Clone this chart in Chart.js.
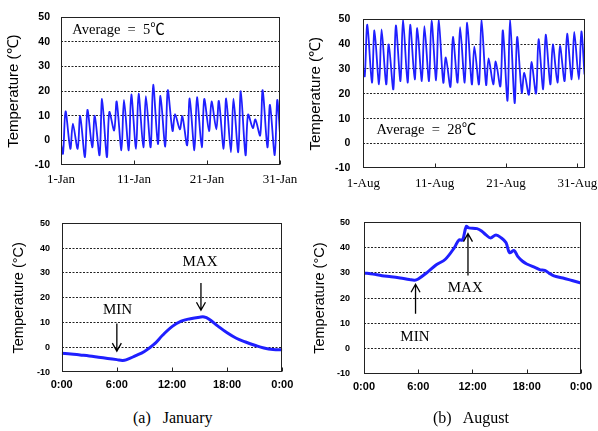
<!DOCTYPE html>
<html>
<head>
<meta charset="utf-8">
<script src="https://cdn.jsdelivr.net/npm/chart.js@4.4.0/dist/chart.umd.min.js"></script>
<style>
  body { margin: 0; background: #fff; overflow: hidden; }
  #wrap { position: relative; width: 598px; height: 431px; overflow: hidden; }
  .box { position: absolute; }
  .cap { position: absolute; font: 16px "Liberation Serif", serif; line-height: 18px; white-space: pre; color: #000; }
</style>
</head>
<body>
<div id="wrap">
  <div class="box" style="left:0;top:0;width:305px;height:195px"><canvas id="janMonth"></canvas></div>
  <div class="box" style="left:300px;top:0;width:305px;height:195px"><canvas id="augMonth"></canvas></div>
  <div class="box" style="left:0;top:200px;width:300px;height:200px"><canvas id="janDay"></canvas></div>
  <div class="box" style="left:300px;top:200px;width:298px;height:200px"><canvas id="augDay"></canvas></div>
  <div class="cap" style="left:133px;top:409px">(a)   January</div>
  <div class="cap" style="left:433px;top:409px">(b)   August</div>
</div>
<script>
// ===== DATA =====
// January: daily low / high (one per day), first and last reading of the month
const janMin = [-5.4, -3.4, -3.4, -6.8, -2.8, -6, -6.8, 4, -4, -4, -3.4, -2.8, -2.8, -1.5, -2.5, 3.8, 4.5, -2, -4, -2.8, 3.8, 4.5, -3.4, -4.8, -4.8, -6, 5, 2, -2.8, -6];
const janMax = [11.8, 6.8, 9.8, 12.4, 10, 16.8, 11.5, 15.8, 16.4, 18.7, 19, 18, 22.6, 18.1, 20.4, 10.7, 9.8, 17, 17.5, 16.8, 15.8, 16, 17, 17, 20, 10.5, 8.5, 20.4, 14.4, 16.4];
const janFirst = -1.5, janLast = 2.5;
const janLowHour = 6.7, janHighHour = 15;

// August: daily low / high
const augMin = [27.1, 24.5, 23.8, 23.8, 21.8, 25.1, 24.5, 25.8, 25.1, 25.1, 25.4, 24.5, 22.8, 24.5, 24.5, 23.8, 23.8, 23.6, 23.8, 23, 17.2, 16.3, 20.5, 19.6, 20.1, 21.8, 23.8, 24.5, 25.1, 25.8, 25.8];
const augMax = [47.8, 45.5, 45.9, 39.9, 47.5, 50, 47.8, 46.4, 47.2, 49.5, 50, 34.6, 42.9, 46.8, 48.6, 39, 50, 34.3, 33, 45.5, 50, 42.9, 28.4, 32.8, 42, 43.8, 39.9, 39.3, 44.2, 44.9, 45.1];
const augFirst = 29.7, augLast = 27.8;
const augLowHour = 5, augHighHour = 13.5;

const janTicks = ['1-Jan', '11-Jan', '21-Jan', '31-Jan'];
const augTicks = ['1-Aug', '11-Aug', '21-Aug', '31-Aug'];
const dayTicks = ['0:00', '6:00', '12:00', '18:00', '0:00'];

// typical day
const janHours = [0, 1, 2, 3, 4, 5, 6, 6.6, 7, 8, 9, 10, 11, 12, 13, 14, 15, 15.5, 16, 17, 18, 19, 20, 21, 22, 23, 24];
const janTemps = [-2.3, -2.6, -3.0, -3.4, -3.9, -4.4, -4.9, -5.2, -5.0, -3.4, -1.6, 1.1, 5.0, 8.4, 10.6, 11.6, 12.2, 12.3, 11.5, 8.6, 5.9, 3.7, 2.2, 0.9, -0.2, -0.8, -0.9];
const augHours = [0, 1, 2, 3, 4, 5, 5.6, 6, 7, 8, 9, 10, 10.5, 10.9, 11.3, 11.6, 12.5, 13, 13.5, 14, 14.6, 15.2, 15.7, 16.1, 16.6, 17, 17.5, 18, 19, 19.5, 20, 20.5, 21, 22, 23, 24];
const augTemps = [30.0, 29.5, 28.9, 28.5, 28.0, 27.4, 27.1, 27.6, 30.2, 33.2, 35.4, 40.0, 43.0, 43.0, 48.3, 47.8, 47.5, 46.6, 45.0, 43.8, 45.0, 43.8, 42.0, 38.0, 38.8, 36.5, 34.7, 33.5, 32.0, 31.2, 31.0, 29.8, 28.8, 28.0, 27.0, 26.0];

// ===== HELPERS =====
function monthPoints(first, mins, maxs, last, days, lowHour, highHour) {
  const pts = [{ x: 0, y: first }];
  mins.forEach((v, d) => {
    pts.push({ x: d + lowHour / 24, y: v });
    pts.push({ x: d + highHour / 24, y: maxs[d] });
  });
  pts.push({ x: days, y: last });
  return pts;
}

function dayPoints(hours, temps) {
  return hours.map((h, i) => ({ x: h, y: temps[i] }));
}

// frame, inner tick marks, arrows and notes
const decor = {
  id: 'decor',
  afterDraw(chart, args, opts) {
    const { ctx, chartArea: a, scales: { x, y } } = chart;
    ctx.save();
    ctx.strokeStyle = '#222';
    ctx.lineWidth = 1;
    const l = Math.round(a.left) + 0.5, t = Math.round(a.top) + 0.5;
    const r = Math.round(a.right) - 0.5, b = Math.round(a.bottom) - 0.5;
    ctx.strokeRect(l, t, r - l, b - t);

    ctx.beginPath();
    x.ticks.forEach(tk => {
      const px = Math.round(x.getPixelForValue(tk.value)) + 0.5;
      ctx.moveTo(px, b);
      ctx.lineTo(px, b - 4);
    });
    ctx.stroke();

    ctx.strokeStyle = '#000';
    ctx.lineWidth = 1.3;
    (opts.arrows || []).forEach(ar => {
      const px = x.getPixelForValue(ar.x);
      const y0 = y.getPixelForValue(ar.from);
      const y1 = y.getPixelForValue(ar.to);
      const dir = y1 > y0 ? 1 : -1;
      ctx.beginPath();
      ctx.moveTo(px, y0);
      ctx.lineTo(px, y1);
      ctx.moveTo(px - 4.5, y1 - dir * 8);
      ctx.lineTo(px, y1);
      ctx.lineTo(px + 4.5, y1 - dir * 8);
      ctx.stroke();
    });

    ctx.fillStyle = '#000';
    ctx.textBaseline = 'middle';
    (opts.notes || []).forEach(n => {
      ctx.font = n.font;
      ctx.textAlign = n.align || 'center';
      ctx.fillText(n.text, x.getPixelForValue(n.x), y.getPixelForValue(n.y));
    });
    ctx.restore();
  }
};

function makeChart(id, c) {
  return new Chart(document.getElementById(id), {
    type: 'line',
    data: {
      datasets: [{
        data: c.points,
        borderColor: '#1f1fff',
        borderWidth: c.lineWidth,
        pointRadius: 0,
        tension: c.tension,
        fill: false
      }]
    },
    options: {
      responsive: true,
      maintainAspectRatio: false,
      animation: false,
      layout: { padding: c.pad },
      plugins: {
        legend: { display: false },
        tooltip: { enabled: false },
        decor: { arrows: c.arrows, notes: c.notes }
      },
      scales: {
        x: {
          type: 'linear',
          min: 0,
          max: c.xMax,
          afterBuildTicks: s => { s.ticks = c.xValues.map(v => ({ value: v })); },
          afterFit: s => { s.height = c.xH; },
          grid: { display: false, drawTicks: false },
          border: { display: false },
          ticks: {
            autoSkip: false,
            maxRotation: 0,
            padding: c.xPad,
            color: '#000',
            font: c.xFont,
            callback: (v, i) => c.xLabels[i]
          }
        },
        y: {
          min: -10,
          max: 50,
          afterFit: s => { s.width = c.yW; },
          grid: {
            drawTicks: false,
            lineWidth: 1,
            color: ctx => (ctx.tick.value > -10 && ctx.tick.value < 50) ? '#222' : 'rgba(0,0,0,0)'
          },
          border: { display: false, dash: [2, 1.5] },
          ticks: {
            stepSize: 10,
            padding: c.yPad,
            color: '#000',
            font: c.yFont
          },
          title: {
            display: true,
            text: c.title,
            color: '#000',
            font: { family: 'Liberation Sans', size: c.titleSize },
            padding: { top: c.titlePad, bottom: 0 }
          }
        }
      }
    },
    plugins: [decor]
  });
}

// ===== CHARTS =====
const serif = '"Liberation Serif", "Noto Sans CJK JP", serif';

makeChart('janMonth', {
  points: monthPoints(janFirst, janMin, janMax, janLast, 30, janLowHour, janHighHour),
  lineWidth: 1.8, tension: 0.3,
  pad: { top: 14, right: 25, left: 0, bottom: 0 },
  xMax: 30, xValues: [0, 10, 20, 30], xLabels: janTicks, xH: 30, xPad: 7,
  xFont: { family: serif, size: 13 },
  yW: 61, yPad: 11, yFont: { family: 'Liberation Sans', size: 10.5, weight: 'bold' },
  title: 'Temperature (℃)', titleSize: 15, titlePad: 4.5,
  notes: [{ text: 'Average  =  5℃', x: 1.55, y: 44.6, align: 'left', font: '14.5px ' + serif }]
});

makeChart('augMonth', {
  points: monthPoints(augFirst, augMin, augMax, augLast, 31, augLowHour, augHighHour),
  lineWidth: 1.8, tension: 0.3,
  pad: { top: 17.3, right: 20.5, left: 0, bottom: 0 },
  xMax: 31, xValues: [0, 10, 20, 30], xLabels: augTicks, xH: 26.7, xPad: 7,
  xFont: { family: serif, size: 13 },
  yW: 63.3, yPad: 13, yFont: { family: 'Liberation Sans', size: 10.5, weight: 'bold' },
  title: 'Temperature (℃)', titleSize: 15, titlePad: 6.5,
  notes: [{ text: 'Average  =  28℃', x: 1.85, y: 5.3, align: 'left', font: '14.5px ' + serif }]
});

makeChart('janDay', {
  points: dayPoints(janHours, janTemps),
  lineWidth: 3, tension: 0.4,
  pad: { top: 23.3, right: 17.7, left: 0, bottom: 0 },
  xMax: 24, xValues: [0, 6, 12, 18, 24], xLabels: dayTicks, xH: 27.7, xPad: 6,
  xFont: { family: 'Liberation Sans', size: 11, weight: 'bold' },
  yW: 61.7, yPad: 11.7, yFont: { family: 'Liberation Sans', size: 9, weight: 'bold' },
  title: 'Temperature (°C)', titleSize: 14.5, titlePad: 10,
  arrows: [{ x: 6, from: 9.7, to: -1.5 }, { x: 15.15, from: 26, to: 15 }],
  notes: [
    { text: 'MIN', x: 6.07, y: 15.2, font: '15px ' + serif },
    { text: 'MAX', x: 15.05, y: 34.3, font: '15px ' + serif }
  ]
});

makeChart('augDay', {
  points: dayPoints(augHours, augTemps),
  lineWidth: 3, tension: 0.35,
  pad: { top: 22.3, right: 12.3, left: 0, bottom: 0 },
  xMax: 24, xValues: [0, 6, 12, 18, 24], xLabels: dayTicks, xH: 26, xPad: 6,
  xFont: { family: 'Liberation Sans', size: 11, weight: 'bold' },
  yW: 64, yPad: 14, yFont: { family: 'Liberation Sans', size: 9, weight: 'bold' },
  title: 'Temperature (°C)', titleSize: 14.5, titlePad: 11,
  arrows: [{ x: 5.7, from: 13.8, to: 25.5 }, { x: 11.5, from: 29, to: 45.5 }],
  notes: [
    { text: 'MIN', x: 5.63, y: 4.8, font: '15px ' + serif },
    { text: 'MAX', x: 11.2, y: 23.8, font: '15px ' + serif }
  ]
});
</script>
</body>
</html>
